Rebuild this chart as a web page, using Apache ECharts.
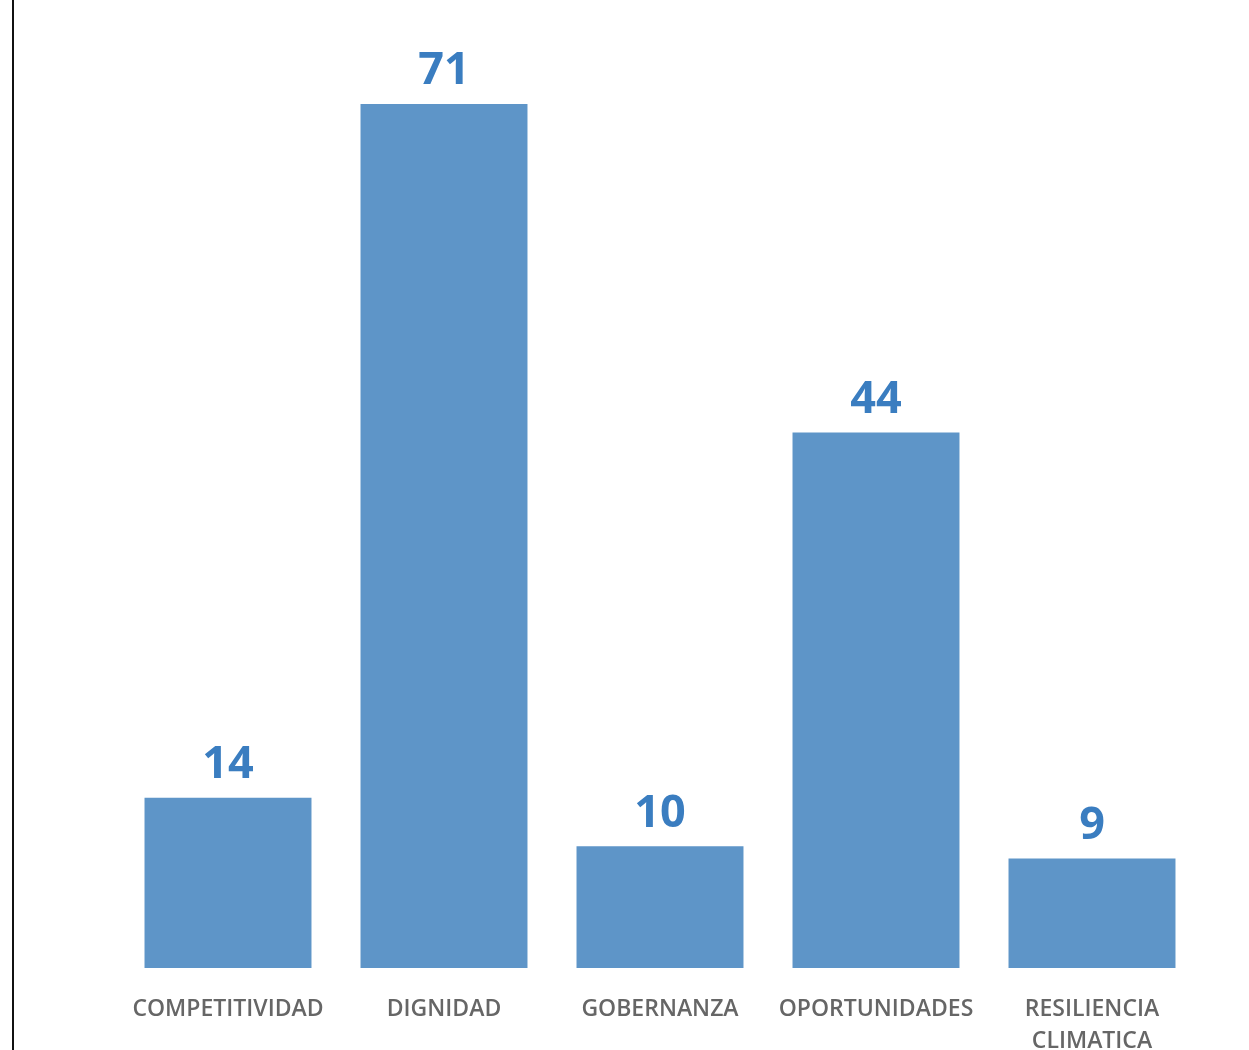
<!DOCTYPE html>
<html>
<head>
<meta charset="utf-8">
<script src="https://cdn.jsdelivr.net/npm/echarts@6/dist/echarts.min.js"></script>
<style>
html,body{margin:0;padding:0;background:#fff;overflow:hidden;}
#chart{width:1249px;height:1050px;}
#edge{position:absolute;left:12px;top:0;width:2px;height:1050px;background:#111;}
</style>
</head>
<body>
<div id="chart"></div>
<div id="edge"></div>
<script>
const categories = ['COMPETITIVIDAD', 'DIGNIDAD', 'GOBERNANZA', 'OPORTUNIDADES', 'RESILIENCIA\nCLIMATICA'];
const values = [14, 71, 10, 44, 9];

const chart = echarts.init(document.getElementById('chart'));
chart.setOption({
  animation: false,
  grid: { left: 120, right: 49, top: 104, bottom: 82, containLabel: false, outerBoundsMode: 'none' },
  xAxis: {
    type: 'category',
    data: categories,
    axisLine: { show: false },
    axisTick: { show: false },
    axisLabel: {
      interval: 0,
      margin: 25,
      color: '#666666',
      fontFamily: 'Open Sans',
      fontWeight: 600,
      fontSize: 23,
      lineHeight: 32
    }
  },
  yAxis: {
    type: 'value',
    min: 0,
    max: 71,
    show: false,
    splitLine: { show: false }
  },
  series: [{
    type: 'bar',
    data: values,
    barCategoryGap: '22.7%',
    itemStyle: { color: '#5e95c8' },
    label: {
      show: true,
      position: 'top',
      distance: 10,
      color: '#3a7dc0',
      fontFamily: 'Open Sans',
      fontWeight: 700,
      fontSize: 45
    }
  }]
});
</script>
</body>
</html>
